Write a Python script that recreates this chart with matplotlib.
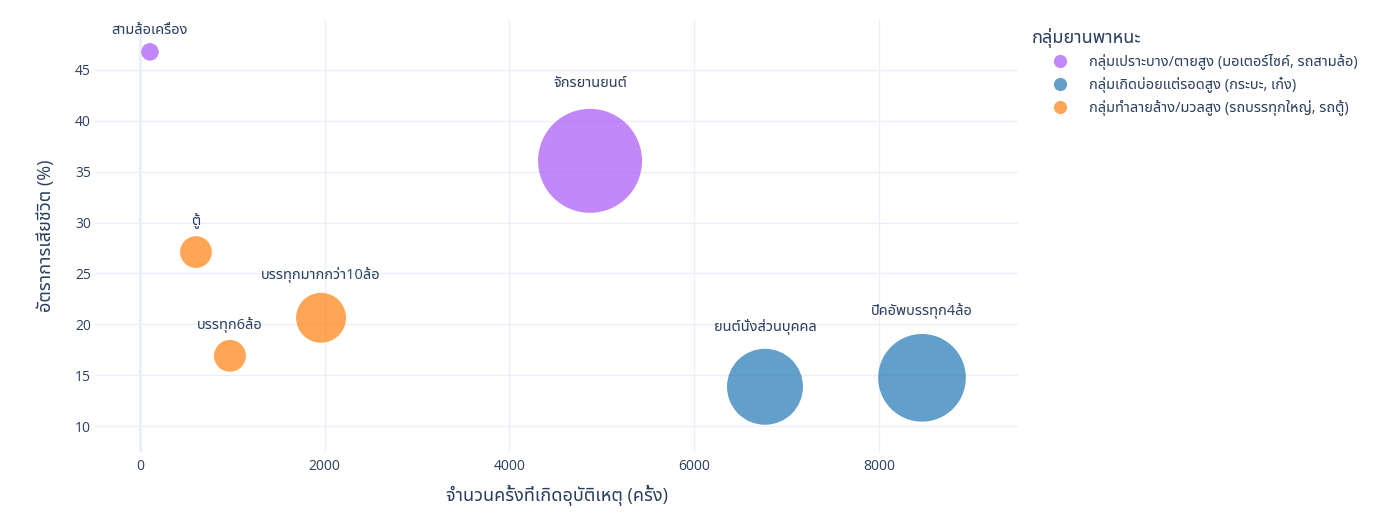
import matplotlib
matplotlib.use("Agg")
import matplotlib.pyplot as plt
from matplotlib.lines import Line2D
import numpy as np

plt.rcParams['font.family'] = ['Open Sans', 'Noto Sans Thai UI', 'DejaVu Sans']

# ข้อมูลยานพาหนะ (อ่านจากกราฟ)
vehicles = ['สามล้อเครื่อง', 'จักรยานยนต์', 'ตู้', 'บรรทุกมากกว่า10ล้อ',
            'บรรทุก6ล้อ', 'ยนต์นั่งส่วนบุคคล', 'ปิคอัพบรรทุก4ล้อ']
accidents = [108, 4872, 606, 1960, 974, 6766, 8466]
death_rate = [46.77, 36.06, 27.1, 20.64, 16.9, 13.86, 14.74]
deaths = [50, 1757, 164, 405, 165, 938, 1248]
group_idx = [0, 0, 2, 2, 2, 1, 1]

group_names = ['กลุ่มเปราะบาง/ตายสูง (มอเตอร์ไซค์, รถสามล้อ)',
               'กลุ่มเกิดบ่อยแต่รอดสูง (กระบะ, เก๋ง)',
               'กลุ่มทำลายล้าง/มวลสูง (รถบรรทุกใหญ่, รถตู้)']
group_colors = ['#a855f7', '#1f77b4', '#ff7f0e']

TXT = '#2a3f5f'
GRID = '#ebf0f8'
size_scale = 3.19  # pt^2 per death

fig = plt.figure(figsize=(13.94, 5.18), dpi=100)
ax = fig.add_axes([95 / 1394, 1 - 452 / 518, (1018 - 95) / 1394, (452 - 20) / 518])

x = np.array(accidents)
y = np.array(death_rate)
s = np.array(deaths) * size_scale
cols = [group_colors[g] for g in group_idx]
ax.scatter(x, y, s=s, c=cols, alpha=0.7, linewidths=0, zorder=3)

for xi, yi, si, name in zip(x, y, s, vehicles):
    d_px = np.sqrt(si) / 0.72
    off = (0.65 * d_px + 10) * 0.72
    ax.annotate(name, (xi, yi), xytext=(0, off), textcoords='offset points',
                ha='center', va='center', fontsize=10.5, color=TXT, zorder=4)

ax.set_xlim(-487, 9505)
ax.set_ylim(7.45, 49.9)
ax.set_xticks([0, 2000, 4000, 6000, 8000])
ax.set_yticks([10, 15, 20, 25, 30, 35, 40, 45])
ax.grid(True, color=GRID, linewidth=1, zorder=0)
ax.axvline(0, color=GRID, linewidth=2.2, zorder=1)
ax.set_axisbelow(True)
for sp in ax.spines.values():
    sp.set_visible(False)
ax.tick_params(length=0, labelsize=10, labelcolor=TXT)
ax.tick_params(axis='y', pad=3)
ax.tick_params(axis='x', pad=5)

ax.set_xlabel('จำนวนครั้งที่เกิดอุบัติเหตุ (ครั้ง)', fontsize=13, color=TXT, labelpad=8)
ax.set_ylabel('อัตราการเสียชีวิต (%)', fontsize=13, color=TXT, labelpad=14)

handles = [Line2D([], [], marker='o', linestyle='', markersize=9.5,
                  markerfacecolor=c, markeredgewidth=0, alpha=0.7)
           for c in group_colors]
leg = fig.legend(handles, group_names, title='กลุ่มยานพาหนะ', loc='upper left',
                 bbox_to_anchor=(1026 / 1394, 1 - 22 / 518), frameon=False,
                 fontsize=10.5, title_fontsize=13, labelcolor=TXT,
                 handlelength=3.8, handletextpad=0.1, labelspacing=0.45,
                 borderaxespad=0)
leg._legend_box.align = 'left'
leg.get_title().set_color(TXT)
leg.get_title().set_fontweight('semibold')

fig.savefig('out.png', dpi=100)
